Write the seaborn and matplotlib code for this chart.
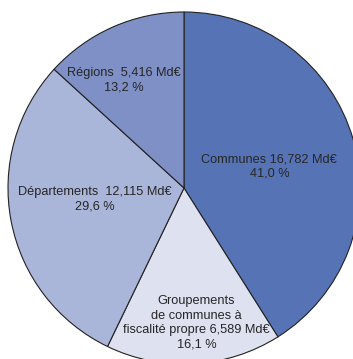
import matplotlib
matplotlib.use("Agg")
import matplotlib.pyplot as plt
import numpy as np
import seaborn as sns

# Recettes fiscales par niveau de collectivité
categories = ["Communes", "Groupements\nde communes à\nfiscalité propre", "Départements", "Régions"]
montants = [16.782, 6.589, 12.115, 5.416]          # Md€
parts = [41.0, 16.1, 29.6, 13.2]                   # %
couleurs = ["#5674b5", "#dde1f0", "#aab5da", "#7f90c6"]

sns.set_theme(style="white")
plt.rcParams["font.family"] = ["Liberation Sans", "DejaVu Sans"]

W, H = 353, 359
fig = plt.figure(figsize=(W / 100, H / 100), dpi=100)
ax = fig.add_axes([0, 0, 1, 1])

cx, cy, r = 184, 171, 176
wedges, _ = ax.pie(parts, colors=couleurs, startangle=90, counterclock=False,
                   center=(cx, cy), radius=r, frame=True,
                   wedgeprops=dict(edgecolor="#222222", linewidth=0.8))
ax.set_xlim(0, W)
ax.set_ylim(0, H)
ax.set_aspect("equal")
ax.axis("off")

def fmt(v, d):
    return f"{v:.{d}f}".replace(".", ",")

# label placement: (radial fraction, angle shift in degrees)
placement = [(0.50, -2.0), (0.77, 2.0), (0.51, -3.5), (0.70, 5.5)]
sep = [" ", " ", "  ", "  "]
for w, cat, m, p, (fr, dth), s in zip(wedges, categories, montants, parts, placement, sep):
    mid = np.deg2rad((w.theta1 + w.theta2) / 2 + dth)
    x = cx + fr * r * np.cos(mid)
    y = cy + fr * r * np.sin(mid)
    txt = f"{cat}{s}{fmt(m, 3)} Md€\n{fmt(p, 1)} %"
    ax.text(x, y, txt, ha="center", va="center", fontsize=9.2,
            color="#262626", linespacing=1.28)

fig.savefig("out.png", dpi=100, facecolor="white")
